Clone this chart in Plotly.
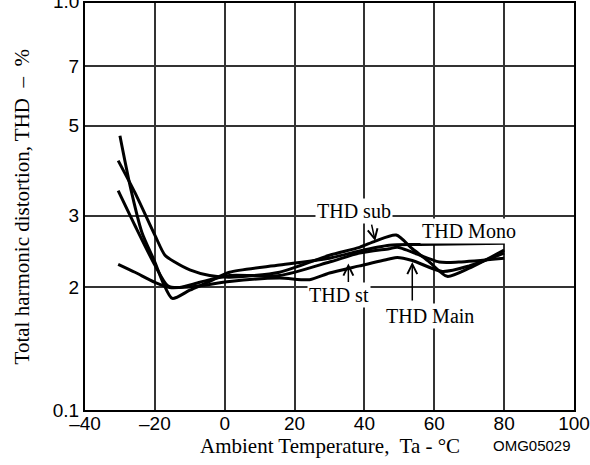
import numpy as np
import plotly.graph_objects as go

# ---- data (temperature in °C, THD values on the 1..10 log scale labelled 0.1..1.0 %) ----
mono_x = [-30, -27.1, -23.7, -20, -17.7, -15, -10, -4.3, 1.4, 15.7, 30, 38.6, 47.1, 55.7, 80]
mono_y = [4.72, 3.56, 2.73, 2.31, 2.06, 1.88, 1.97, 2.07, 2.18, 2.27, 2.36, 2.46, 2.54, 2.55, 2.57]

sub_x = [-30.5, -25.7, -20, -17.1, -14.3, -10, -4.3, 1.4, 15.7, 30, 38.6, 43.1, 49.1, 53.7, 58.6, 63.7, 70, 80]
sub_y = [4.10, 3.42, 2.69, 2.40, 2.31, 2.21, 2.14, 2.12, 2.18, 2.40, 2.51, 2.60, 2.69, 2.49, 2.31, 2.13, 2.23, 2.47]

st_x = [-30.5, -25.7, -20, -16.3, -12.9, -7.1, 1.4, 15.7, 30, 38.6, 47.1, 49.5, 61.4, 67, 80]
st_y = [3.46, 2.84, 2.27, 2.02, 2.00, 2.06, 2.14, 2.14, 2.31, 2.43, 2.49, 2.51, 2.31, 2.31, 2.36]

main_x = [-30.5, -25.7, -20, -15.7, -12.9, -7.1, 1.4, 15.7, 24.3, 30, 38.6, 47.1, 49.4, 53.7, 62.3, 70, 80]
main_y = [2.28, 2.18, 2.06, 2.00, 2.00, 2.02, 2.07, 2.11, 2.09, 2.17, 2.26, 2.35, 2.37, 2.33, 2.19, 2.26, 2.43]

x_ticks = [-40, -20, 0, 20, 40, 60, 80, 100]
x_ticktext = ["\u201340", "\u201320", "0", "20", "40", "60", "80", "100"]
y_ticks = [1, 2, 3, 5, 7, 10]
y_ticktext = ["0.1", "2", "3", "5", "7", "1.0"]

labels = ["THD sub", "THD Mono", "THD st", "THD Main"]
label_x = [37.1, 70, 32.6, 58.9]
label_y = [3.09, 2.75, 1.92, 1.70]

# arrows: tip position (data) and tail offset (px)
arrow_x = [43.1, 35.4, 53.7]
arrow_y = [2.60, 2.29, 2.31]
arrow_ax = [-4, 0, 0]
arrow_ay = [-18, 20, 40]

fig = go.Figure()
for xs, ys in [(mono_x, mono_y), (sub_x, sub_y), (st_x, st_y), (main_x, main_y)]:
    fig.add_trace(go.Scatter(x=xs, y=ys, mode="lines",
                             line=dict(color="black", width=3, shape="spline", smoothing=0.7),
                             showlegend=False, hoverinfo="skip"))

serif = "Liberation Serif"
sans = "Liberation Sans"

ann = []
for t, x, y in zip(labels, label_x, label_y):
    ann.append(dict(x=x, y=np.log10(y), xref="x", yref="y", text=t, showarrow=False,
                    font=dict(family=serif, size=20, color="black"),
                    bgcolor="white", borderpad=1))
for x, y, ax, ay in zip(arrow_x, arrow_y, arrow_ax, arrow_ay):
    ann.append(dict(x=x, y=np.log10(y), xref="x", yref="y", text="", showarrow=True,
                    ax=ax, ay=ay, arrowhead=5, arrowsize=1.3, arrowwidth=1.5,
                    arrowcolor="black", standoff=0))
# top tick label (sits on the page edge, partly cut off)
ann.append(dict(x=0, y=1, xref="paper", yref="paper", text=y_ticktext[-1], showarrow=False,
                xanchor="right", yanchor="middle", xshift=-4, yshift=2,
                font=dict(family=sans, size=19, color="black")))
ann.append(dict(x=0.5, y=-0.088, xref="paper", yref="paper",
                text="Ambient Temperature,\u00a0 Ta - °C", showarrow=False,
                font=dict(family=serif, size=21, color="black"),
                xanchor="center", yanchor="middle"))
ann.append(dict(x=0.914, y=-0.088, xref="paper", yref="paper",
                text="OMG05029", showarrow=False,
                font=dict(family=sans, size=15, color="black"),
                xanchor="center", yanchor="middle"))
ann.append(dict(x=-0.129, y=0.5, xref="paper", yref="paper", textangle=-90,
                text="Total harmonic distortion, THD\u00a0\u00a0\u2013\u00a0\u00a0%", showarrow=False,
                font=dict(family=serif, size=21, color="black"), xanchor="center", yanchor="middle"))

fig.update_layout(
    width=590, height=465,
    margin=dict(l=85, r=16, t=3, b=55, autoexpand=False),
    paper_bgcolor="white", plot_bgcolor="white",
    annotations=ann,
    xaxis=dict(range=[-40, 100], tickvals=x_ticks, ticktext=x_ticktext,
               showgrid=True, gridcolor="#333", gridwidth=1.5,
               showline=True, linecolor="black", linewidth=2, mirror=True,
               ticks="", zeroline=False, ticklabelstandoff=-5,
               tickfont=dict(family=sans, size=19, color="black")),
    yaxis=dict(type="log", range=[0, 1], tickvals=y_ticks, ticktext=y_ticktext,
               showgrid=True, gridcolor="#333", gridwidth=1.5,
               showline=True, linecolor="black", linewidth=2, mirror=True,
               ticks="", zeroline=False,
               tickfont=dict(family=sans, size=19, color="black")),
)

fig.write_html("out.html", config={"displayModeBar": False},
               post_script="document.body.style.margin='0px';document.body.style.overflow='hidden';")
